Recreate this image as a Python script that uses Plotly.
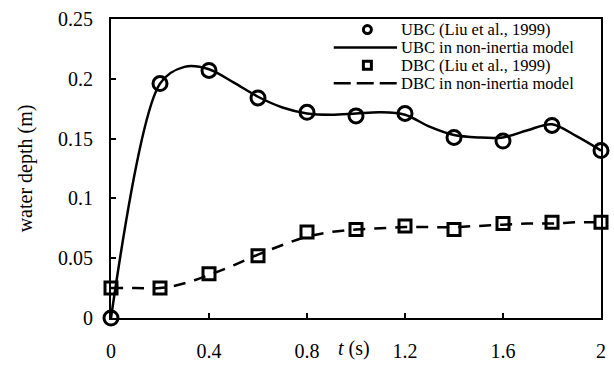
import plotly.graph_objects as go

# Experimental data (Liu et al., 1999)
t_obs = [0.0, 0.2, 0.4, 0.6, 0.8, 1.0, 1.2, 1.4, 1.6, 1.8, 2.0]
ubc_obs = [0.0, 0.196, 0.207, 0.184, 0.172, 0.169, 0.171, 0.151, 0.148, 0.161, 0.140]
dbc_obs = [0.025, 0.025, 0.037, 0.052, 0.072, 0.074, 0.077, 0.074, 0.079, 0.080, 0.080]

# Non-inertia model results
t_mod_u = [0.0, 0.2, 0.3, 0.4, 0.5, 0.6, 0.7, 0.8, 0.9, 1.0, 1.1, 1.2, 1.3, 1.4, 1.5, 1.6, 1.7, 1.8, 1.9, 2.0]
ubc_mod = [0.0, 0.196, 0.210, 0.208, 0.197, 0.185, 0.176, 0.171, 0.170, 0.171, 0.172, 0.170,
           0.160, 0.153, 0.151, 0.151, 0.157, 0.162, 0.152, 0.140]
t_mod_d = [0.0, 0.1, 0.2, 0.3, 0.4, 0.5, 0.6, 0.7, 0.8, 0.9, 1.0, 1.1, 1.2, 1.3, 1.4, 1.5, 1.6, 1.7, 1.8, 1.9, 2.0]
dbc_mod = [0.025, 0.025, 0.025, 0.029, 0.036, 0.044, 0.053, 0.061, 0.068, 0.072, 0.074, 0.075, 0.076,
           0.076, 0.076, 0.077, 0.078, 0.079, 0.079, 0.080, 0.080]

x_ticks = [0, 0.4, 0.8, 1.2, 1.6, 2]
x_ticklabels = ["0", "0.4", "0.8", "1.2", "1.6", "2"]
y_ticks = [0, 0.05, 0.1, 0.15, 0.2, 0.25]
y_ticklabels = ["0", "0.05", "0.1", "0.15", "0.2", "0.25"]

legend_labels = ["UBC (Liu et al., 1999)", "UBC in non-inertia model",
                 "DBC (Liu et al., 1999)", "DBC in non-inertia model"]

FONT = "Liberation Serif, Times New Roman, serif"
W, H = 614, 370
ML, MR, MT, MB = 111, 8, 17, 43
PW, PH = W - ML - MR, H - MT - MB


def px_x(px):
    return (px - ML) / PW


def px_y(py):
    return (H - MB - py) / PH


fig = go.Figure()
fig.add_trace(go.Scatter(x=t_mod_u, y=ubc_mod, mode="lines", name=legend_labels[1],
                         line=dict(color="black", width=2.5, shape="spline", smoothing=0.9)))
fig.add_trace(go.Scatter(x=t_mod_d, y=dbc_mod, mode="lines", name=legend_labels[3],
                         line=dict(color="black", width=2.5, dash="12px,9px", shape="spline", smoothing=1.0)))
fig.add_trace(go.Scatter(x=t_obs, y=ubc_obs, mode="markers", name=legend_labels[0],
                         marker=dict(symbol="circle-open", size=14, color="black", line=dict(width=3)),
                         cliponaxis=False))
fig.add_trace(go.Scatter(x=t_obs, y=dbc_obs, mode="markers", name=legend_labels[2],
                         marker=dict(symbol="square-open", size=12, color="black", line=dict(width=3)),
                         cliponaxis=False))

axis_common = dict(showline=True, linecolor="black", linewidth=2, mirror=True, ticks="inside",
                   ticklen=5, tickwidth=1.5, tickcolor="black", showgrid=False, zeroline=False,
                   tickfont=dict(family=FONT, size=20, color="black"))

fig.update_xaxes(range=[0, 2], tickvals=x_ticks, ticktext=x_ticklabels, ticklabelstandoff=14, **axis_common)
fig.update_yaxes(range=[0, 0.25], tickvals=y_ticks, ticktext=y_ticklabels, ticklabelstandoff=12, **axis_common)

# axis titles
fig.add_annotation(text="<i>t</i> (s)", xref="paper", yref="paper", x=px_x(356), y=px_y(359),
                   xanchor="center", yanchor="middle", showarrow=False,
                   font=dict(family=FONT, size=20, color="black"))
fig.add_annotation(text="water depth (m)", xref="paper", yref="paper", x=px_x(25), y=px_y(172),
                   xanchor="center", yanchor="middle", textangle=-90, showarrow=False,
                   font=dict(family=FONT, size=20, color="black"))

# manual legend
row_y = [28, 46.5, 65, 83.5]
sym_cx, line_x0, line_x1, text_x = 370, 336, 400, 403
for i, lab in enumerate(legend_labels):
    fig.add_annotation(text=lab, xref="paper", yref="paper", x=px_x(text_x), y=px_y(row_y[i]),
                       xanchor="left", yanchor="middle", showarrow=False, borderpad=0,
                       font=dict(family=FONT, size=16.5, color="black"))
# circle symbol
fig.add_shape(type="circle", xref="paper", yref="paper", xsizemode="pixel", ysizemode="pixel",
              xanchor=px_x(sym_cx), yanchor=px_y(row_y[0]), x0=-4, x1=4, y0=-4, y1=4,
              line=dict(color="black", width=3))
# solid line symbol
fig.add_shape(type="line", xref="paper", yref="paper", x0=px_x(line_x0), x1=px_x(line_x1),
              y0=px_y(row_y[1]), y1=px_y(row_y[1]), line=dict(color="black", width=2.5))
# square symbol
fig.add_shape(type="rect", xref="paper", yref="paper", xsizemode="pixel", ysizemode="pixel",
              xanchor=px_x(sym_cx), yanchor=px_y(row_y[2]), x0=-4, x1=4, y0=-4, y1=4,
              line=dict(color="black", width=3))
# dashed line symbol
fig.add_shape(type="line", xref="paper", yref="paper", x0=px_x(line_x0), x1=px_x(line_x1),
              y0=px_y(row_y[3]), y1=px_y(row_y[3]), line=dict(color="black", width=2.5, dash="17px,6px"))

fig.update_layout(
    width=W, height=H,
    margin=dict(l=ML, r=MR, t=MT, b=MB),
    paper_bgcolor="white", plot_bgcolor="white",
    showlegend=False,
)

fig.write_html("out.html")
